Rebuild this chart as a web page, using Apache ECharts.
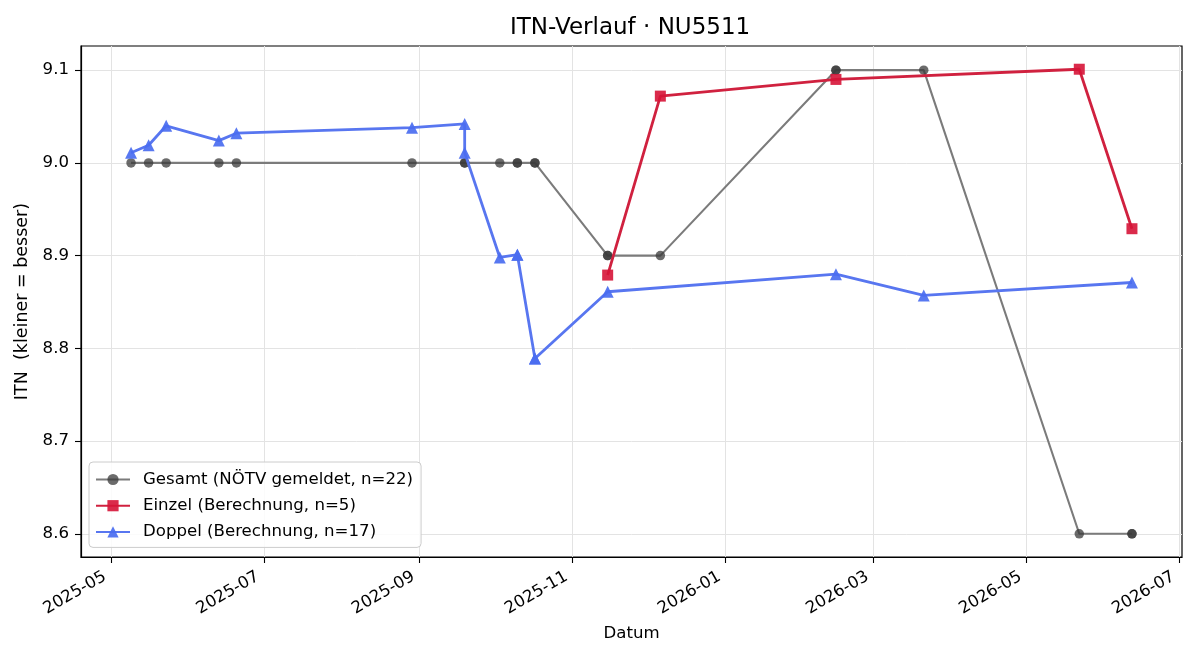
<!DOCTYPE html>
<html>
<head>
<meta charset="utf-8">
<script src="https://cdn.jsdelivr.net/npm/echarts@6/dist/echarts.min.js"></script>
<style>
html,body{margin:0;padding:0;background:#fff;}
#chart{width:1200px;height:660px;}
</style>
</head>
<body>
<div id="chart"></div>
<script>
// ---- data ----
const gesamtDates = ['2025-05-09','2025-05-16','2025-05-23','2025-06-13','2025-06-20','2025-08-29','2025-09-19','2025-09-19','2025-10-03','2025-10-10','2025-10-10','2025-10-17','2025-10-17','2025-11-15','2025-11-15','2025-12-06','2026-02-14','2026-02-14','2026-03-21','2026-05-22','2026-06-12','2026-06-12'];
const gesamtValues = [9.0,9.0,9.0,9.0,9.0,9.0,9.0,9.0,9.0,9.0,9.0,9.0,9.0,8.9,8.9,8.9,9.1,9.1,9.1,8.6,8.6,8.6];

const einzelDates = ['2025-11-15','2025-12-06','2026-02-14','2026-05-22','2026-06-12'];
const einzelValues = [8.879,9.072,9.090,9.101,8.929];

const doppelDates = ['2025-05-09','2025-05-16','2025-05-23','2025-06-13','2025-06-20','2025-08-29','2025-09-19','2025-09-19','2025-10-03','2025-10-10','2025-10-10','2025-10-17','2025-10-17','2025-11-15','2026-02-14','2026-03-21','2026-06-12'];
const doppelValues = [9.011,9.019,9.040,9.024,9.032,9.038,9.042,9.011,8.898,8.901,8.901,8.789,8.789,8.861,8.880,8.857,8.871];

const xTickLabels = ['2025-05','2025-07','2025-09','2025-11','2026-01','2026-03','2026-05','2026-07'];
const yTickValues = [8.6,8.7,8.8,8.9,9.0,9.1];

const seriesNames = ['Gesamt (NÖTV gemeldet, n=22)','Einzel (Berechnung, n=5)','Doppel (Berechnung, n=17)'];
const titleText = 'ITN-Verlauf · NU5511';

// ---- helpers ----
function ts(d){ const p=d.split('-').map(Number); return Date.UTC(p[0],p[1]-1,p[2]||1); }
function pairs(ds, vs){ return ds.map((d,i)=>[ts(d), vs[i]]); }
const allDates = gesamtDates.concat(einzelDates, doppelDates).map(ts);
const dMin = Math.min.apply(null, allDates), dMax = Math.max.apply(null, allDates);
const xPad = (dMax - dMin) * 0.05;
const allVals = gesamtValues.concat(einzelValues, doppelValues);
const vMin = Math.min.apply(null, allVals), vMax = Math.max.apply(null, allVals);
const yPad = (vMax - vMin) * 0.05;
const xTickTs = xTickLabels.map(ts);
const xLabelOf = {};
xTickLabels.forEach(l => { xLabelOf[ts(l)] = l; });

const FONT = 'DejaVu Sans';
const FS = 16.6;
const chart = echarts.init(document.getElementById('chart'), null, {renderer:'canvas'});
chart.setOption({
  animation: false,
  backgroundColor: '#fff',
  textStyle: {fontFamily: FONT, color: '#000'},
  title: {
    text: titleText, left: 510, top: 17, padding: 0,
    textStyle: {fontFamily: FONT, fontSize: 23, fontWeight: 'normal', color: '#000'}
  },
  grid: {left: 81, right: 18, top: 46, bottom: 103, show: true, borderColor: '#000', borderWidth: 1.2, containLabel: false},
  legend: {
    orient: 'vertical', left: 89, top: 462,
    data: seriesNames,
    itemWidth: 34, itemHeight: 14, itemGap: 9.2,
    padding: [9, 8, 7, 6],
    backgroundColor: 'rgba(255,255,255,0.85)',
    borderColor: '#cccccc', borderWidth: 1, borderRadius: 4,
    textStyle: {fontFamily: FONT, fontSize: FS, color: '#000', padding: [0,0,0,8], lineHeight: 14}
  },
  xAxis: {
    type: 'value', min: dMin - xPad, max: dMax + xPad,
    name: 'Datum', nameLocation: 'middle', nameGap: 68,
    nameTextStyle: {fontFamily: FONT, fontSize: FS, color: '#000'},
    axisLine: {show: true, lineStyle: {color: '#000', width: 1.2}},
    axisTick: {show: true, length: 6, lineStyle: {color: '#000', width: 1.1}, customValues: xTickTs},
    axisLabel: {
      customValues: xTickTs, rotate: 30, margin: 15, padding: [0, 7, 0, 0], color: '#000', fontFamily: FONT, fontSize: FS,
      formatter: function(v){ return xLabelOf[v] || ''; }
    },
    splitLine: {show: true, lineStyle: {color: '#e3e3e3', width: 1}}
  },
  yAxis: {
    type: 'value', min: vMin - yPad, max: vMax + yPad,
    name: 'ITN  (kleiner = besser)', nameLocation: 'middle', nameGap: 42, nameRotate: 90,
    nameTextStyle: {fontFamily: FONT, fontSize: 17.5, color: '#000'},
    axisLine: {show: true, lineStyle: {color: '#000', width: 1.2}},
    axisTick: {show: true, length: 6, lineStyle: {color: '#000', width: 1.1}, customValues: yTickValues},
    axisLabel: {customValues: yTickValues, margin: 12, color: '#000', fontFamily: FONT, fontSize: FS,
      formatter: function(v){ return Number(v).toFixed(1); }},
    splitLine: {show: true, lineStyle: {color: '#e3e3e3', width: 1}}
  },
  series: [
    {
      name: seriesNames[0], type: 'line', data: pairs(gesamtDates, gesamtValues),
      symbol: 'circle', symbolSize: 9.5, showAllSymbol: true,
      lineStyle: {color: '#7b7b7b', width: 2.1},
      itemStyle: {color: 'rgba(58,58,58,0.75)'}, z: 2
    },
    {
      name: seriesNames[1], type: 'line', data: pairs(einzelDates, einzelValues),
      symbol: 'rect', symbolSize: 11, showAllSymbol: true,
      lineStyle: {color: '#d0213f', width: 2.8},
      itemStyle: {color: 'rgba(214,20,55,0.9)'}, z: 3
    },
    {
      name: seriesNames[2], type: 'line', data: pairs(doppelDates, doppelValues),
      symbol: 'triangle', symbolSize: 12, showAllSymbol: true,
      lineStyle: {color: '#5876f0', width: 2.8},
      itemStyle: {color: 'rgba(74,108,240,0.92)'}, z: 4
    }
  ]
});
</script>
</body>
</html>
